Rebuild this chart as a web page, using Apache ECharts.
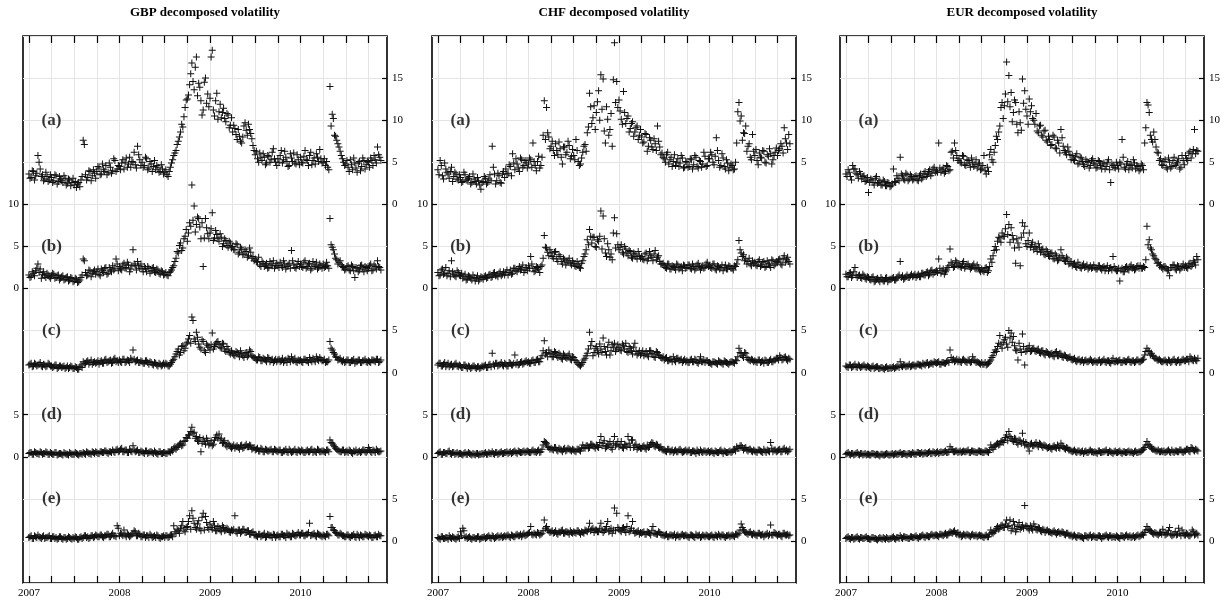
<!DOCTYPE html>
<html><head><meta charset="utf-8">
<script src="https://cdn.jsdelivr.net/npm/echarts@6/dist/echarts.min.js"></script>
<style>html,body{margin:0;padding:0;background:#fff}#c{width:1230px;height:603px}</style>
</head><body><div id="c"></div>
<script>
const panelTitles = ['GBP decomposed volatility', 'CHF decomposed volatility', 'EUR decomposed volatility'];
const subLabels = ['(a)', '(b)', '(c)', '(d)', '(e)'];
const yearTicks = [2007, 2008, 2009, 2010];
const quarterTicks = [2007, 2007.25, 2007.5, 2007.75, 2008, 2008.25, 2008.5, 2008.75, 2009, 2009.25, 2009.5, 2009.75, 2010, 2010.25, 2010.5, 2010.75];
const yLabelValues = [[0, 5, 10, 15], [0, 5, 10], [0, 5], [0, 5], [0, 5]];
// sampling of the series: first array at startYear + i*stepYear, second ("mid") array half a step later
const startYear = 2007, stepYear = 0.025;

const gbpA = [3.6,3.2,3.9,3.4,5.8,4.2,3.5,3.0,3.3,2.9, 3.2,2.8,3.4,2.7,3.0,2.6,3.1,2.5,2.9,2.6, 2.3,2.0,2.6,2.9,7.6,3.5,3.2,3.9,3.4,3.7, 3.9,4.3,3.6,4.1,4.6,3.8,4.4,4.0,5.2,4.2,
 4.5,4.9,4.2,5.5,4.8,4.4,5.0,4.7,6.9,5.3, 5.0,4.6,5.4,4.3,4.8,4.5,4.1,4.4,3.9,4.2, 3.8,3.5,3.9,4.9,5.8,6.4,7.5,8.6,9.2,11.5, 12.5,14.2,16.8,13.6,17.5,14.4,12.3,11.2,15.0,13.1,
 12.6,18.3,10.5,13.2,11.0,10.3,11.4,9.8,10.6,9.4, 8.6,9.0,7.7,8.1,7.3,9.3,8.8,9.5,8.4,7.0, 5.9,5.4,6.1,5.2,5.6,4.9,5.7,5.3,6.6,5.0, 5.4,5.8,4.9,6.3,5.1,4.6,5.5,6.1,4.8,5.3,
 5.6,4.9,6.4,5.2,5.8,4.7,5.5,6.0,5.1,5.4, 5.0,4.6,4.4,14.0,10.7,8.2,7.6,6.8,5.8,5.0, 4.8,4.4,5.3,4.1,4.9,3.8,5.1,4.5,5.2,4.7, 5.0,5.5,4.6,5.3,6.8,5.6];
const gbpAmid = [3.1,4.0,2.9,3.7,5.0,3.3,2.8,3.8,2.7,3.5, 2.6,3.5,2.4,3.3,2.8,3.4,2.3,3.0,2.2,3.1, 2.7,2.4,2.1,3.3,7.1,2.9,4.0,2.8,4.1,3.1, 4.5,3.5,4.8,3.9,3.5,4.9,3.7,5.4,3.9,4.6,
 4.1,5.3,5.0,4.4,5.6,5.1,6.2,4.3,5.9,4.6, 4.4,5.6,4.1,5.1,3.9,5.2,4.6,3.8,4.7,3.6, 4.1,3.3,4.4,5.3,6.1,7.1,8.0,9.5,10.4,12.4, 13.0,15.5,14.6,16.3,12.9,13.9,10.6,14.5,12.0,11.6,
 17.5,11.2,12.3,10.1,11.9,10.9,10.2,10.8,9.1,10.3, 9.4,8.3,8.9,7.5,8.0,9.7,8.2,8.9,7.8,6.4, 6.3,5.0,5.6,6.0,4.7,5.8,5.0,6.2,5.4,4.6, 5.0,6.4,5.3,5.6,4.5,6.0,5.1,4.9,5.9,4.7,
 5.0,5.7,5.3,4.6,6.2,5.2,4.8,5.6,6.5,4.9, 5.4,5.1,4.1,9.3,10.2,8.1,7.2,6.3,5.4,4.6, 5.2,3.9,4.7,5.5,4.3,4.9,4.0,5.5,4.2,5.1, 4.4,5.2,5.8,4.9,5.9,5.2];
const gbpB = [1.6,1.4,1.8,2.1,2.9,2.3,1.7,1.5,1.8,1.4, 1.5,1.7,1.3,1.6,1.2,1.5,1.1,1.4,1.0,1.2, 0.9,1.1,0.8,1.3,3.5,1.9,1.6,2.1,1.8,2.2, 2.0,1.7,2.3,1.9,2.5,1.8,2.2,2.7,2.4,2.9,
 2.6,2.2,3.0,2.5,2.8,2.3,4.6,2.7,3.2,2.4, 2.3,2.6,2.0,2.4,2.1,2.5,1.9,2.2,1.7,2.0, 1.7,1.6,1.9,2.2,2.7,3.6,4.2,5.4,4.8,6.2, 5.6,7.8,12.3,9.8,7.6,8.3,5.9,2.6,8.3,6.5,
 6.6,9.0,6.0,6.4,5.6,6.1,5.3,5.7,4.9,5.4, 5.0,4.6,5.2,4.3,4.7,4.1,4.4,3.9,4.3,3.8, 3.5,3.1,2.8,3.2,2.6,3.0,2.5,2.9,3.3,2.7, 2.7,3.1,2.5,2.9,2.6,3.0,4.5,2.8,2.4,3.2,
 2.9,2.5,3.3,2.6,3.0,2.4,2.8,3.1,2.5,2.7, 2.9,2.6,2.7,8.3,4.9,4.1,3.4,3.1,2.8,2.5, 2.3,2.7,2.1,2.6,1.3,2.4,2.2,2.8,2.0,2.5, 2.4,2.9,2.2,2.6,3.3,2.5];
const gbpBmid = [1.3,2.0,1.5,2.4,1.9,1.2,2.0,1.3,1.6,1.2, 1.8,1.2,1.5,1.0,1.4,1.0,1.3,0.9,1.3,0.8, 1.2,0.7,1.0,1.6,3.3,1.5,2.2,1.4,2.0,1.7, 2.3,1.5,2.1,2.4,1.7,2.5,2.0,2.2,3.5,2.1,
 2.3,2.8,2.4,3.1,2.0,2.7,2.9,2.2,2.7,2.9, 2.0,2.4,2.6,1.8,2.4,2.0,2.3,1.8,2.1,1.6, 1.9,1.5,2.0,2.5,3.2,4.4,5.1,4.5,5.9,7.0, 6.6,7.4,8.1,6.7,8.5,7.3,7.8,6.0,7.2,5.9,
 7.1,5.7,6.9,5.9,6.5,5.0,5.9,5.1,5.6,4.8, 4.6,5.3,4.1,4.9,4.0,4.6,3.7,4.8,3.6,3.3, 3.2,3.7,2.6,3.0,2.8,2.4,3.2,2.7,2.4,3.0, 2.5,2.7,3.3,2.3,2.8,2.4,3.3,2.5,2.9,2.6,
 2.6,3.1,2.4,2.9,2.2,3.2,2.6,2.3,2.9,2.4, 2.5,3.1,2.4,5.2,4.6,3.6,2.9,3.3,2.6,2.2, 2.6,2.2,2.8,2.1,2.5,2.0,2.7,2.3,2.6,2.1, 2.7,2.1,2.8,2.3,2.6,2.2];
const gbpC = [0.9,1.1,0.8,1.0,0.9,1.2,0.7,0.9,0.8,1.0, 0.8,0.7,0.9,0.6,0.8,0.7,0.5,0.8,0.6,0.7, 0.5,0.6,0.4,0.9,1.3,1.1,1.4,1.2,1.0,1.3, 1.2,1.0,1.4,1.1,1.6,1.3,1.5,1.2,1.7,1.4,
 1.5,1.2,1.6,1.3,1.4,1.7,2.7,1.3,1.5,1.2, 1.3,1.1,1.4,1.0,1.2,0.9,1.1,0.8,1.0,0.9, 0.9,1.0,0.8,1.2,1.6,2.2,2.8,2.4,3.2,2.9, 3.6,4.4,6.6,4.0,4.8,3.4,2.8,3.7,2.4,3.2,
 2.7,4.7,3.1,3.6,3.3,2.9,3.4,2.5,2.8,2.2, 2.3,2.0,2.4,1.9,2.2,1.8,2.4,2.1,2.5,1.9, 1.7,1.5,1.8,1.4,1.6,1.3,1.7,1.5,1.2,1.6, 1.5,1.3,1.7,1.4,1.2,1.6,1.9,1.4,1.3,1.5,
 1.5,1.2,1.6,1.4,1.8,1.3,1.5,1.9,1.4,1.6, 1.4,1.2,1.3,3.7,2.7,2.2,1.8,1.6,1.4,1.5, 1.3,1.5,1.2,1.4,1.1,1.3,1.5,1.2,1.4,1.3, 1.4,1.2,1.5,1.3,1.6,1.3];
const gbpCmid = [1.0,0.7,1.1,0.8,1.0,0.8,1.0,0.7,1.1,0.8, 0.6,0.9,0.5,0.8,0.6,0.8,0.6,0.5,0.8,0.5, 0.7,0.4,0.7,0.6,1.1,1.3,1.0,1.5,1.2,1.1, 1.4,1.3,1.1,1.5,1.2,1.4,1.1,1.6,1.3,1.2,
 1.3,1.6,1.2,1.5,1.2,1.5,1.6,1.4,1.2,1.4, 1.1,1.4,1.2,1.3,1.0,1.2,0.9,1.1,0.8,1.1, 1.1,0.8,1.0,1.4,1.9,2.5,2.1,3.1,2.6,3.4, 4.0,3.5,6.2,3.7,4.2,3.0,3.9,2.6,3.4,3.0,
 3.3,2.8,3.4,3.7,3.0,3.5,2.7,3.1,2.4,2.6, 2.1,2.5,2.2,2.6,2.0,2.3,1.9,2.7,2.0,1.8, 1.5,1.9,1.4,1.7,1.5,1.8,1.3,1.6,1.4,1.3, 1.6,1.4,1.2,1.5,1.7,1.3,1.5,1.7,1.2,1.4,
 1.3,1.6,1.4,1.2,1.5,1.7,1.3,1.6,1.8,1.4, 1.6,1.3,1.5,2.9,2.4,1.9,1.5,1.7,1.3,1.2, 1.5,1.2,1.4,1.6,1.3,1.5,1.2,1.4,1.6,1.2, 1.3,1.5,1.4,1.6,1.2,1.5];
const gbpD = [0.4,0.5,0.3,0.5,0.4,0.6,0.3,0.4,0.5,0.3, 0.4,0.3,0.5,0.3,0.4,0.2,0.4,0.3,0.5,0.3, 0.3,0.4,0.2,0.4,0.5,0.3,0.5,0.4,0.6,0.4, 0.5,0.4,0.6,0.5,0.7,0.4,0.6,0.8,0.5,0.9,
 0.7,1.0,0.6,0.8,0.5,0.7,1.3,0.6,0.8,0.5, 0.6,0.4,0.7,0.5,0.6,0.4,0.5,0.3,0.6,0.4, 0.5,0.4,0.6,0.8,1.0,0.9,1.3,1.6,1.4,1.9, 2.2,2.6,3.5,2.9,2.4,1.8,0.6,2.1,1.5,1.9,
 1.6,1.3,2.0,2.6,2.7,2.2,1.7,1.4,1.6,1.2, 1.2,1.0,1.3,0.9,1.4,1.1,1.5,1.2,1.3,1.0, 0.8,1.0,0.7,0.9,0.6,0.8,0.7,0.9,0.6,0.8, 0.6,0.8,0.5,0.7,0.6,0.9,0.5,0.7,0.6,0.8,
 0.6,0.7,0.5,0.8,0.6,0.9,0.7,0.5,0.8,0.6, 0.7,0.5,0.8,2.0,1.6,1.2,0.9,0.7,0.6,0.8, 0.6,0.5,0.7,0.4,0.6,0.5,0.7,0.6,0.8,0.5, 1.1,0.6,0.8,0.5,0.7,0.6];
const gbpDmid = [0.5,0.3,0.6,0.4,0.3,0.5,0.4,0.6,0.3,0.5, 0.3,0.5,0.2,0.4,0.3,0.5,0.3,0.2,0.4,0.3, 0.5,0.3,0.4,0.3,0.4,0.6,0.4,0.3,0.5,0.6, 0.4,0.6,0.5,0.7,0.5,0.6,0.5,0.6,0.8,0.6,
 0.9,0.6,0.8,0.5,0.9,0.6,0.8,0.7,0.5,0.7, 0.5,0.7,0.4,0.6,0.5,0.7,0.4,0.6,0.4,0.5, 0.4,0.6,0.5,0.7,1.2,1.1,1.5,1.3,1.8,2.3, 2.6,3.0,2.8,2.2,1.9,2.3,1.6,1.8,2.2,1.4,
 1.9,1.5,2.3,2.2,2.0,1.6,1.9,1.2,1.4,1.0, 1.4,1.2,1.1,1.3,1.0,1.3,1.2,1.4,0.9,1.1, 0.9,0.7,1.0,0.6,0.9,0.7,0.8,0.6,0.9,0.7, 0.8,0.5,0.7,0.9,0.5,0.7,0.6,0.9,0.5,0.7,
 0.8,0.5,0.7,0.6,0.8,0.5,0.6,0.9,0.6,0.7, 0.6,0.8,0.6,1.7,1.4,1.0,0.8,0.6,0.8,0.5, 0.7,0.8,0.5,0.7,0.8,0.6,0.5,0.8,0.6,0.7, 0.8,0.5,0.7,0.9,0.6,0.7];
const gbpE = [0.4,0.6,0.3,0.5,0.7,0.4,0.5,0.3,0.4,0.6, 0.3,0.5,0.4,0.3,0.5,0.2,0.4,0.3,0.4,0.2, 0.3,0.4,0.2,0.5,0.4,0.6,0.5,0.4,0.6,0.5, 0.6,0.5,0.7,0.4,0.6,0.8,0.5,0.9,0.6,1.8,
 0.6,0.8,1.3,0.5,0.7,0.6,0.9,1.1,0.6,0.8, 0.5,0.7,0.6,0.4,0.6,0.5,0.4,0.6,0.3,0.5, 0.4,0.6,0.5,0.7,1.8,0.9,1.2,1.5,2.3,1.1, 1.7,3.0,3.6,2.1,1.4,2.4,1.2,3.3,2.9,1.6,
 2.0,1.4,1.8,1.2,1.5,1.1,1.6,1.3,1.4,1.0, 1.2,3.0,0.9,1.3,1.1,1.4,1.0,1.2,0.8,1.1, 0.7,0.5,0.8,0.6,0.9,0.5,0.7,0.6,0.8,0.4, 0.7,0.5,0.8,0.6,0.9,0.7,0.5,0.8,0.6,1.0,
 0.7,0.9,0.6,0.8,2.1,0.7,0.9,0.5,0.8,0.6, 0.7,0.5,0.8,2.9,1.6,1.2,0.9,0.7,0.8,0.6, 0.5,0.7,0.4,0.6,0.5,0.8,0.4,0.6,0.5,0.7, 0.5,0.6,0.4,0.7,0.5,0.6];
const gbpEmid = [0.5,0.3,0.6,0.4,0.5,0.3,0.6,0.4,0.5,0.3, 0.5,0.3,0.2,0.5,0.3,0.4,0.2,0.5,0.3,0.4, 0.5,0.2,0.4,0.3,0.6,0.4,0.3,0.6,0.4,0.7, 0.5,0.7,0.5,0.6,0.8,0.5,0.7,0.6,0.5,1.5,
 0.9,0.6,0.7,0.9,0.5,0.8,1.2,0.6,0.9,0.5, 0.7,0.4,0.6,0.8,0.4,0.6,0.7,0.4,0.5,0.6, 0.6,0.4,0.7,0.5,1.1,1.4,0.9,1.8,1.3,1.6, 2.3,1.4,2.7,1.6,2.0,1.5,2.8,1.3,2.2,1.4,
 1.6,2.3,1.2,1.7,1.3,1.8,1.2,1.5,1.1,1.3, 1.4,1.1,1.3,0.9,1.4,1.0,1.2,0.8,1.0,0.7, 0.6,0.8,0.5,0.7,0.4,0.8,0.6,0.4,0.7,0.6, 0.5,0.8,0.6,0.4,0.7,0.5,0.9,0.6,0.8,0.7,
 0.9,0.6,0.8,1.0,0.6,0.8,0.6,0.9,0.7,0.5, 0.6,0.8,0.6,1.6,1.3,1.0,0.7,0.9,0.6,0.5, 0.7,0.5,0.6,0.8,0.4,0.6,0.7,0.5,0.8,0.6, 0.7,0.4,0.6,0.5,0.8,0.6];

const chfA = [4.1,5.2,3.4,4.9,3.8,3.1,4.4,3.3,3.6,2.9, 3.2,2.7,3.5,2.9,3.3,2.6,3.0,2.4,2.8,1.8, 2.7,3.1,2.6,3.5,6.9,3.6,2.8,3.4,2.5,3.9, 4.2,3.7,4.5,6.0,4.1,4.8,3.9,5.3,4.6,5.0,
 4.8,5.3,7.3,4.6,5.1,4.3,5.6,12.3,11.5,8.0, 6.9,6.4,7.2,5.9,6.6,4.8,6.8,6.2,7.0,5.7, 5.8,7.7,5.1,4.8,6.2,7.1,8.5,13.2,9.6,11.7, 10.9,13.5,15.4,14.9,7.3,10.1,8.9,6.9,19.2,14.6,
 12.4,10.1,13.4,9.6,10.5,9.0,9.8,8.6,9.3,8.2, 8.0,7.4,8.3,6.9,7.6,6.5,7.2,9.3,6.8,6.1, 5.4,5.9,4.8,5.6,5.1,4.6,5.4,4.9,5.5,4.4, 5.0,4.5,5.3,4.7,5.6,4.3,5.1,4.8,5.7,4.6,
 5.4,5.9,4.7,7.9,5.2,4.6,5.5,4.2,4.9,4.4, 4.6,4.2,7.3,12.1,10.5,8.5,9.3,6.9,5.6,8.3, 5.8,5.2,6.1,5.5,6.3,4.9,5.7,6.0,5.3,6.2, 5.8,6.6,6.9,9.1,7.3,8.3];
const chfAmid = [3.5,4.6,3.0,4.2,3.6,3.9,2.7,3.8,3.0,3.5, 2.6,3.8,2.9,3.1,2.4,3.6,2.7,3.2,2.3,2.6, 3.3,2.4,3.0,2.8,4.4,2.4,3.7,2.6,3.6,3.2, 3.6,4.7,3.4,4.9,5.4,4.3,5.5,4.4,5.2,4.3,
 5.5,4.4,5.1,4.0,5.7,4.6,8.2,7.7,8.5,6.6, 7.5,5.8,6.4,7.4,5.6,6.8,5.9,7.5,5.4,6.5, 5.3,6.4,4.6,5.5,6.9,6.3,9.2,11.6,10.3,8.9, 12.2,10.0,11.3,8.7,11.6,8.2,10.8,14.8,12.1,11.5,
 11.1,9.5,10.9,10.2,8.6,9.6,8.1,9.1,7.7,8.9, 7.3,8.4,6.3,7.9,6.8,7.8,6.4,7.5,5.9,5.6, 5.0,6.2,5.3,4.5,5.9,5.0,4.5,5.8,4.3,5.1, 4.4,5.4,4.2,5.8,4.5,5.2,4.4,6.2,4.5,5.4,
 6.2,5.0,5.7,6.4,4.4,6.0,4.5,5.3,4.0,4.8, 4.1,5.0,11.0,9.9,7.6,8.4,6.3,7.2,5.3,6.3, 6.5,4.7,5.6,6.4,5.0,5.9,6.6,4.8,5.8,6.7, 6.4,7.2,6.1,7.8,6.5,7.2];
const chfB = [1.9,1.6,2.3,1.8,1.5,2.1,3.3,1.7,1.4,1.9, 1.5,1.2,1.7,1.1,1.4,1.0,1.3,1.2,0.9,1.4, 1.1,1.5,1.3,1.7,1.4,1.9,1.6,1.8,1.5,2.0, 1.9,1.6,2.2,1.8,2.4,2.0,2.6,2.3,1.9,2.5,
 2.7,3.8,2.4,2.1,2.5,1.9,2.8,6.3,4.8,3.9, 4.2,3.6,4.4,3.2,3.8,2.9,3.4,3.1,3.6,2.8, 3.0,2.6,2.9,2.4,3.3,4.1,5.8,7.0,5.4,6.1, 4.9,5.6,9.2,8.6,4.2,5.3,3.7,3.4,8.4,6.5,
 4.6,5.2,4.1,4.7,3.9,4.4,3.6,4.1,3.5,3.9, 3.8,3.4,4.2,3.6,3.9,3.3,4.5,3.7,3.2,2.9, 2.7,2.4,2.9,2.3,2.6,2.2,2.8,2.5,2.1,2.7, 2.5,2.8,2.3,2.6,2.4,3.0,2.2,2.7,2.5,3.1,
 2.7,2.4,2.9,2.2,2.6,2.5,2.1,2.8,2.3,2.6, 2.4,2.7,2.9,5.7,4.2,4.0,3.5,3.2,2.9,3.3, 3.1,2.7,3.4,2.8,3.2,2.6,3.0,2.5,3.3,2.9, 3.1,3.5,2.8,3.9,3.4,3.2];
const chfBmid = [1.5,2.2,1.7,2.5,1.8,1.4,2.0,1.5,2.1,1.6, 1.8,1.4,1.0,1.5,1.2,1.6,0.9,1.5,1.1,1.3, 1.4,1.2,1.6,1.3,1.8,1.5,1.4,2.0,1.7,1.6, 2.2,1.9,1.7,2.4,2.1,2.3,2.2,2.8,2.2,2.1,
 2.4,2.9,2.0,2.6,2.3,2.6,3.6,4.9,4.3,4.6, 3.8,4.3,3.5,4.0,3.2,3.6,2.8,3.3,3.0,3.3, 2.7,3.2,2.5,3.0,3.8,4.6,5.2,6.2,6.1,5.0, 5.8,6.2,4.7,5.9,3.8,4.6,4.1,6.6,4.8,5.2,
 4.9,4.3,5.0,4.2,4.5,3.7,4.2,3.8,4.4,3.6, 3.5,4.1,3.3,4.4,3.7,4.1,3.4,3.9,2.9,3.0, 2.5,2.9,2.3,2.7,2.5,2.9,2.3,2.6,2.8,2.4, 2.8,2.4,2.9,2.2,2.8,2.6,2.5,2.4,2.9,2.6,
 2.5,2.9,2.3,2.7,2.3,2.8,2.5,2.3,2.7,2.4, 2.2,2.6,3.4,4.6,3.8,3.3,2.9,3.6,2.7,3.0, 2.8,3.2,2.6,3.1,2.5,3.3,2.8,3.4,2.7,3.2, 3.4,2.9,3.6,3.1,3.7,2.9];
const chfC = [0.9,1.1,0.8,1.2,0.9,0.7,1.0,0.8,1.1,0.7, 0.8,0.6,0.9,0.5,0.7,0.6,0.8,0.5,0.7,0.6, 0.7,0.9,0.6,1.0,2.3,0.8,1.1,0.9,1.2,0.8, 1.0,0.8,1.1,0.9,2.1,1.2,1.0,1.3,1.1,1.4,
 1.3,1.1,1.5,1.2,1.6,1.3,2.0,3.8,2.4,2.7, 2.2,1.9,2.4,1.8,2.1,1.6,2.0,1.7,2.2,1.5, 1.8,1.4,1.0,0.8,1.2,1.7,2.3,4.8,3.7,2.4, 3.1,2.2,2.8,4.1,2.5,3.0,2.1,3.3,3.5,2.8,
 3.0,2.6,3.2,3.5,2.4,2.9,2.2,3.5,2.1,2.6, 2.3,2.0,2.5,1.9,2.6,2.2,1.8,2.4,2.0,1.7, 1.5,1.8,1.4,1.6,1.9,1.3,1.7,1.5,1.2,1.6, 1.4,1.2,1.6,1.3,1.5,1.1,1.9,1.3,1.2,1.4,
 1.2,1.0,1.3,1.1,1.4,1.2,1.0,1.3,1.1,1.2, 1.3,1.1,1.4,2.9,2.3,1.8,2.3,1.6,1.4,1.5, 1.4,1.2,1.5,1.3,1.1,1.4,1.2,1.6,1.3,1.5, 1.7,2.0,1.5,1.8,1.6,1.7];
const chfCmid = [1.1,0.8,1.0,0.7,1.1,0.9,0.7,1.0,0.8,0.9, 0.6,0.9,0.7,0.8,0.5,0.8,0.6,0.7,0.5,0.8, 0.8,0.6,0.9,0.7,1.0,1.1,0.8,1.0,0.9,1.1, 0.8,1.2,0.9,1.1,1.0,0.9,1.2,1.0,1.3,1.2,
 1.1,1.4,1.2,1.5,1.3,1.7,2.6,2.2,1.9,2.3, 1.9,2.5,2.0,2.3,1.7,2.2,1.8,2.0,1.6,1.9, 1.5,1.2,0.9,1.0,1.5,2.0,2.8,3.2,2.0,2.9, 2.6,3.4,2.4,3.1,2.1,3.6,2.6,3.0,2.5,3.3,
 2.7,3.4,2.8,2.5,3.1,2.6,3.0,2.5,2.3,2.1, 2.6,2.2,2.1,2.6,2.3,1.9,2.5,2.1,1.8,1.9, 1.7,1.4,1.6,1.3,1.5,1.7,1.4,1.6,1.4,1.3, 1.2,1.5,1.3,1.6,1.2,1.4,1.3,1.5,1.4,1.2,
 1.1,1.3,1.2,1.0,1.3,1.1,1.4,1.2,1.0,1.3, 1.2,1.5,1.9,2.4,2.0,2.4,1.8,1.5,1.6,1.3, 1.3,1.5,1.2,1.4,1.5,1.2,1.4,1.3,1.5,1.7, 1.5,1.8,1.6,1.9,1.4,1.6];
const chfD = [0.4,0.6,0.3,0.5,0.4,0.7,0.3,0.5,0.4,0.3, 0.4,0.2,0.5,0.3,0.4,0.2,0.3,0.4,0.2,0.3, 0.3,0.5,0.3,0.4,0.6,0.3,0.5,0.4,0.6,0.4, 0.5,0.4,0.6,0.5,0.7,0.4,0.6,0.5,0.7,0.6,
 0.6,0.5,0.8,0.6,0.7,0.5,0.9,1.8,1.6,1.1, 1.0,0.8,1.1,0.7,0.9,0.6,1.0,0.8,0.9,0.7, 0.8,0.6,0.9,0.7,1.4,1.0,1.3,1.1,1.5,1.2, 1.4,1.1,2.4,1.6,1.0,1.3,1.8,0.9,2.4,1.5,
 1.2,1.8,1.0,1.4,2.4,1.1,2.0,1.3,0.9,1.2, 1.0,1.3,0.9,1.1,1.5,1.6,1.2,1.4,1.0,0.9, 0.8,0.6,0.9,0.7,0.5,0.8,0.6,0.9,0.5,0.7, 0.6,0.8,0.5,0.7,0.4,0.6,0.8,0.5,0.7,0.6,
 0.5,0.7,0.4,0.6,0.5,0.8,0.4,0.6,0.5,0.7, 0.6,0.9,1.2,1.0,1.3,0.8,1.1,0.7,0.9,0.6, 0.7,0.5,0.8,0.6,0.9,0.5,0.7,1.7,0.6,0.8, 0.7,0.9,0.6,1.0,0.8,0.7];
const chfDmid = [0.5,0.3,0.5,0.4,0.6,0.4,0.5,0.3,0.5,0.4, 0.3,0.4,0.3,0.5,0.3,0.4,0.2,0.4,0.3,0.4, 0.4,0.3,0.5,0.4,0.4,0.5,0.3,0.5,0.4,0.5, 0.6,0.5,0.4,0.6,0.5,0.7,0.5,0.6,0.5,0.7,
 0.5,0.7,0.6,0.5,0.8,0.6,1.4,1.7,1.2,0.9, 0.9,1.1,0.8,1.0,0.8,0.9,0.7,1.0,0.8,0.9, 0.7,0.9,0.8,1.0,1.1,1.3,1.0,1.5,1.3,1.0, 1.2,1.7,1.3,1.9,1.2,1.5,1.1,1.6,1.3,1.8,
 1.4,1.1,1.5,1.2,1.6,2.0,1.1,1.5,1.1,1.0, 1.2,1.0,1.4,1.2,1.7,1.3,1.5,1.1,1.2,0.8, 0.7,0.9,0.6,0.8,0.7,0.6,0.8,0.7,0.6,0.8, 0.7,0.5,0.7,0.6,0.8,0.5,0.6,0.7,0.5,0.7,
 0.6,0.5,0.7,0.5,0.7,0.6,0.7,0.5,0.6,0.5, 0.8,0.7,1.0,1.3,1.1,1.0,0.8,0.9,0.7,0.8, 0.6,0.8,0.7,0.5,0.7,0.8,0.6,1.0,0.8,0.6, 0.8,0.6,0.9,0.7,0.6,0.9];
const chfE = [0.4,0.2,0.5,0.3,0.4,0.6,0.3,0.4,0.2,0.5, 1.1,1.5,0.4,0.3,0.5,0.2,0.4,0.3,0.5,0.3, 0.4,0.3,0.5,0.4,0.6,0.3,0.5,0.4,0.6,0.5, 0.5,0.7,0.4,0.6,0.5,0.8,0.6,0.5,0.9,0.7,
 0.9,1.7,0.7,0.8,1.0,0.7,0.9,2.5,1.7,1.2, 1.1,0.9,1.2,0.8,1.0,1.3,0.9,1.1,0.8,1.0, 1.1,0.9,1.2,0.8,1.0,1.3,1.1,2.1,1.4,1.0, 1.3,1.1,2.1,1.0,1.4,2.3,1.2,0.9,3.9,3.3,
 1.4,1.1,1.6,1.0,3.0,1.2,2.3,0.9,1.1,0.8, 0.9,1.1,0.8,1.0,0.7,1.7,0.9,0.8,1.0,0.7, 0.6,0.8,0.5,0.7,0.6,0.4,0.7,0.5,0.8,0.6, 0.6,0.4,0.7,0.5,0.8,0.6,0.4,0.7,0.5,0.6,
 0.5,0.7,0.4,0.6,0.8,0.5,0.7,0.4,0.6,0.5, 0.7,0.5,0.8,0.9,2.0,1.3,1.0,0.8,1.1,0.7, 0.8,0.6,0.9,0.7,0.5,0.8,0.6,1.9,0.7,0.9, 0.6,0.8,0.5,0.9,0.7,0.6];
const chfEmid = [0.3,0.5,0.3,0.4,0.2,0.4,0.5,0.3,0.4,0.3, 0.6,1.2,0.5,0.4,0.3,0.4,0.3,0.5,0.2,0.4, 0.5,0.4,0.6,0.3,0.5,0.4,0.6,0.5,0.4,0.6, 0.6,0.5,0.7,0.5,0.7,0.6,0.8,0.7,0.6,0.8,
 1.0,0.8,0.9,0.7,0.9,0.8,1.2,1.5,1.3,1.0, 1.2,1.0,0.9,1.1,1.2,0.9,1.1,1.0,1.2,0.9, 1.0,1.2,1.0,1.1,0.9,1.2,1.4,1.2,1.5,1.3, 1.1,1.5,1.3,1.2,1.7,1.1,1.5,1.3,1.2,1.6,
 1.2,1.5,1.3,1.7,1.1,1.5,1.2,1.0,1.2,1.0, 1.0,0.8,1.1,0.9,1.2,0.9,0.8,1.1,0.8,0.7, 0.7,0.5,0.7,0.6,0.8,0.6,0.5,0.7,0.6,0.7, 0.5,0.7,0.6,0.4,0.6,0.7,0.5,0.6,0.7,0.5,
 0.6,0.5,0.7,0.5,0.6,0.7,0.5,0.6,0.7,0.6, 0.6,0.8,0.7,1.3,1.6,1.1,0.9,1.0,0.8,0.9, 0.7,0.9,0.7,0.8,0.7,0.9,0.8,0.7,1.0,0.8, 0.8,0.6,0.9,0.7,0.8,0.7];

const eurA = [3.6,4.1,3.3,4.6,4.2,3.5,3.9,3.0,3.4,2.8, 1.4,3.0,2.6,3.1,2.5,2.8,2.3,2.7,2.2,2.5, 2.2,4.2,2.6,3.1,5.6,3.4,2.9,3.5,3.0,3.3, 3.0,3.4,2.8,3.6,3.2,3.9,3.5,4.1,3.7,4.4,
 4.0,7.3,3.8,4.3,3.9,4.5,4.1,6.3,7.3,5.8, 5.4,4.9,5.7,4.6,5.2,4.4,5.0,4.7,4.3,4.9, 4.2,5.8,3.6,3.9,6.5,5.0,7.0,7.7,9.3,12.1, 11.7,16.9,15.3,13.3,10.9,12.1,8.5,9.7,14.9,13.5,
 10.5,12.5,11.7,10.0,10.8,8.5,9.4,8.0,8.8,7.4, 7.7,7.1,8.0,6.6,7.3,8.9,6.9,6.2,6.8,5.9, 5.8,5.2,6.0,4.9,5.5,4.7,5.3,5.0,4.6,5.4, 4.8,4.4,5.1,4.2,4.9,4.5,5.3,2.6,4.6,4.3,
 4.6,5.0,7.7,4.4,4.8,4.1,4.7,5.3,4.2,4.5, 4.2,4.6,7.3,12.1,10.9,7.7,8.6,6.8,6.1,5.4, 4.6,5.3,4.2,5.0,4.5,5.6,4.8,5.4,4.4,5.2, 5.8,5.2,6.3,6.0,8.9,6.4];
const eurAmid = [3.3,3.8,2.9,4.2,3.7,3.1,3.6,3.3,2.7,3.2, 2.6,2.9,2.3,3.3,2.6,2.3,2.9,2.2,2.6,2.1, 2.4,2.7,3.4,2.8,3.6,3.0,3.7,2.8,3.5,2.9, 3.3,2.9,3.4,3.0,3.7,3.3,3.9,3.4,4.2,3.8,
 3.8,4.3,4.1,3.7,4.6,4.0,6.2,5.5,6.4,5.2, 5.0,5.8,4.7,5.3,4.9,5.5,4.5,5.3,4.8,4.1, 4.6,4.0,4.4,5.9,5.3,6.2,8.1,8.6,11.5,10.2, 13.1,12.2,11.6,9.8,12.4,9.5,11.0,8.8,12.0,11.3,
 9.5,11.0,10.2,9.5,8.7,9.3,8.2,8.7,7.6,8.1, 7.0,8.2,6.7,7.6,6.1,7.9,6.4,5.9,6.3,5.3, 5.3,5.7,4.8,5.6,5.1,4.5,5.1,4.3,5.2,4.9, 4.3,5.2,4.6,4.8,4.2,5.0,4.1,4.8,4.4,5.0,
 4.2,4.8,5.6,4.2,5.1,4.6,4.3,4.9,4.6,4.0, 4.8,4.1,9.1,11.8,8.2,7.4,7.7,6.2,5.2,4.7, 5.1,4.4,5.5,4.3,5.2,4.6,5.0,4.2,5.8,4.7, 5.4,6.1,5.5,6.5,6.0,6.3];
const eurB = [1.7,1.4,1.9,1.5,2.5,1.3,1.6,1.2,1.5,1.1, 1.3,1.0,1.4,0.9,1.2,0.8,1.1,0.9,1.3,1.0, 1.1,1.3,1.0,1.4,3.2,1.5,1.2,1.6,1.3,1.7, 1.5,1.3,1.7,1.4,1.8,1.6,2.0,1.7,2.2,1.9,
 2.1,3.5,1.8,2.3,2.0,2.5,4.7,2.9,2.6,3.1, 2.9,2.5,3.2,2.6,2.9,2.3,2.7,2.4,2.8,2.2, 2.3,2.0,2.5,2.1,3.5,3.9,5.0,5.6,6.0,6.6, 6.2,8.8,7.6,7.2,5.8,3.0,5.4,2.7,7.8,7.4,
 5.0,6.6,5.2,4.6,4.8,5.3,4.3,4.7,4.0,4.4, 3.8,4.2,3.5,3.9,3.4,4.6,3.6,3.2,3.5,3.0, 2.7,3.0,2.5,2.8,2.4,2.9,2.6,2.3,2.7,2.5, 2.5,2.3,2.7,2.2,2.6,2.4,2.1,2.5,3.8,2.3,
 2.1,0.9,2.4,2.0,2.6,2.2,2.8,2.5,2.3,2.7, 2.7,2.4,2.5,7.4,5.8,4.6,3.9,3.4,3.1,2.8, 2.3,2.6,2.1,1.5,2.5,2.8,2.2,2.6,2.4,2.9, 2.7,2.4,3.0,2.8,3.1,3.8];
const eurBmid = [1.4,1.8,1.3,2.0,1.6,1.5,1.3,1.7,1.2,1.4, 1.1,1.3,0.8,1.1,1.0,1.3,0.9,1.2,0.8,1.1, 1.2,1.0,1.2,1.6,1.3,1.1,1.4,1.3,1.5,1.4, 1.7,1.5,1.4,1.8,1.6,1.9,1.5,2.1,1.7,2.0,
 1.9,2.4,2.1,1.7,2.2,2.7,3.1,2.5,3.3,2.7, 2.6,3.0,2.4,2.8,2.6,2.5,2.9,2.3,2.5,2.0, 2.1,2.4,1.9,2.6,3.1,4.5,4.6,6.1,5.5,6.2, 7.1,6.4,5.5,6.3,4.8,5.9,4.9,6.1,6.6,5.3,
 5.7,4.9,5.5,5.0,4.4,4.9,4.6,4.1,4.6,3.9, 4.2,3.6,4.1,3.3,3.7,3.9,3.3,3.7,2.9,3.2, 2.9,2.6,3.1,2.5,2.7,2.5,2.8,2.5,2.4,2.8, 2.3,2.7,2.4,2.5,2.1,2.7,2.4,2.2,2.6,2.1,
 2.4,2.2,2.0,2.5,2.3,2.6,2.4,2.2,2.6,2.4, 2.4,2.6,3.4,5.2,4.8,4.1,3.6,3.0,2.7,2.5, 2.6,2.4,2.2,2.5,2.8,2.3,2.7,2.2,2.6,2.5, 2.5,2.9,2.6,3.3,2.8,3.4];
const eurC = [0.8,0.6,0.9,0.7,1.0,0.6,0.8,0.7,0.9,0.6, 0.7,0.5,0.8,0.6,0.7,0.5,0.6,0.4,0.7,0.5, 0.5,0.7,0.6,0.8,1.3,0.7,0.9,0.8,1.0,0.8, 0.9,0.8,1.0,0.9,1.1,0.9,1.2,1.0,1.1,1.3,
 1.1,1.3,1.0,1.2,1.1,1.4,2.7,1.5,1.3,1.6, 1.5,1.2,1.6,1.3,1.5,1.2,1.9,1.4,1.3,1.1, 1.2,1.0,0.9,1.1,1.5,2.0,2.7,3.1,4.4,2.9, 3.9,3.4,5.0,4.7,4.3,2.7,1.5,2.8,4.6,0.9,
 2.7,3.2,2.6,2.9,2.5,2.8,2.3,2.6,2.1,2.4, 2.1,2.3,1.9,2.5,2.0,2.2,1.8,2.0,1.7,1.9, 1.5,1.7,1.3,1.6,1.4,1.2,1.5,1.3,1.6,1.2, 1.4,1.2,1.5,1.3,1.6,1.2,1.4,1.1,1.7,1.3,
 1.3,1.5,1.2,1.4,1.3,1.6,1.2,1.4,1.3,1.5, 1.3,1.5,2.1,2.9,2.5,2.3,1.9,1.7,1.5,1.4, 1.3,1.5,1.2,1.4,1.3,1.6,1.2,1.5,1.3,1.6, 1.4,1.6,1.9,1.5,1.7,1.4];
const eurCmid = [0.7,0.9,0.6,0.8,0.7,0.9,0.6,0.8,0.7,0.8, 0.6,0.7,0.5,0.7,0.5,0.6,0.5,0.6,0.5,0.6, 0.6,0.5,0.7,0.6,0.8,0.9,0.7,0.8,0.7,0.9, 0.8,1.0,0.9,0.8,1.0,1.1,0.9,1.1,1.0,1.2,
 1.2,1.0,1.2,1.1,1.3,1.2,1.8,1.6,1.4,1.3, 1.3,1.5,1.4,1.2,1.4,1.3,1.5,1.2,1.2,1.0, 1.0,1.2,1.0,1.3,1.8,2.4,2.5,3.5,3.3,3.6, 4.2,3.0,4.1,3.6,3.2,2.6,3.5,2.4,3.1,2.5,
 2.9,2.5,2.8,2.6,2.7,2.4,2.6,2.2,2.5,2.2, 2.2,2.0,2.4,2.0,2.3,1.9,2.1,1.8,1.8,1.6, 1.6,1.4,1.5,1.3,1.5,1.4,1.3,1.4,1.4,1.3, 1.3,1.4,1.2,1.4,1.3,1.4,1.2,1.4,1.3,1.4,
 1.4,1.2,1.4,1.3,1.5,1.3,1.4,1.2,1.5,1.3, 1.4,1.6,2.5,2.6,2.1,2.0,1.7,1.5,1.6,1.3, 1.4,1.3,1.5,1.2,1.5,1.3,1.4,1.2,1.5,1.4, 1.6,1.3,1.7,1.4,1.5,1.7];
const eurD = [0.3,0.5,0.2,0.4,0.3,0.5,0.2,0.4,0.3,0.2, 0.3,0.2,0.4,0.2,0.3,0.1,0.3,0.2,0.4,0.2, 0.3,0.2,0.4,0.3,0.5,0.3,0.4,0.2,0.4,0.3, 0.4,0.3,0.5,0.4,0.3,0.5,0.4,0.6,0.4,0.5,
 0.5,0.4,0.6,0.5,0.7,0.5,1.2,0.8,0.6,0.7, 0.6,0.5,0.7,0.6,0.8,0.5,0.7,0.6,0.5,0.7, 0.6,0.5,0.7,0.5,1.4,0.9,1.3,1.6,1.5,1.9, 2.0,2.6,3.0,2.2,1.8,2.1,1.5,1.9,2.8,1.4,
 1.4,0.7,1.6,1.3,1.7,1.2,1.5,1.1,1.3,1.0, 1.2,0.9,1.3,1.0,1.1,1.6,1.2,0.9,1.0,0.8, 0.6,0.8,0.5,0.7,0.6,0.4,0.7,0.5,0.8,0.6, 0.6,0.4,0.7,0.5,0.6,0.8,0.5,0.6,0.4,0.7,
 0.5,0.7,0.4,0.6,0.5,0.7,0.6,0.4,0.7,0.5, 0.6,0.8,1.1,1.8,1.4,1.0,0.9,0.7,0.8,0.6, 0.6,0.5,0.7,0.6,0.8,0.5,0.7,0.6,0.8,0.5, 0.7,0.9,0.6,1.0,0.7,0.8];
const eurDmid = [0.4,0.3,0.4,0.2,0.4,0.3,0.4,0.2,0.4,0.3, 0.2,0.4,0.3,0.3,0.2,0.3,0.2,0.3,0.3,0.2, 0.4,0.3,0.3,0.4,0.3,0.4,0.3,0.4,0.3,0.5, 0.3,0.5,0.4,0.5,0.4,0.4,0.5,0.4,0.6,0.4,
 0.6,0.5,0.5,0.6,0.5,0.6,0.9,0.6,0.7,0.5, 0.7,0.6,0.6,0.7,0.5,0.7,0.6,0.5,0.7,0.6, 0.5,0.7,0.6,0.8,1.1,1.2,1.5,1.4,1.8,1.7, 2.3,1.9,2.4,2.0,2.2,1.7,2.0,1.6,1.8,1.7,
 1.2,1.5,1.3,1.5,1.4,1.6,1.3,1.4,1.2,1.1, 1.0,1.2,1.1,1.4,1.0,1.3,1.0,1.1,0.8,0.7, 0.7,0.6,0.7,0.5,0.7,0.6,0.5,0.7,0.6,0.5, 0.5,0.7,0.5,0.6,0.7,0.5,0.7,0.5,0.6,0.5,
 0.6,0.5,0.6,0.5,0.6,0.5,0.5,0.6,0.5,0.6, 0.7,0.9,1.4,1.5,1.2,0.9,0.8,0.7,0.6,0.7, 0.7,0.6,0.8,0.5,0.6,0.7,0.6,0.8,0.6,0.7, 0.9,0.7,1.1,0.8,0.9,0.7];
const eurE = [0.3,0.5,0.2,0.4,0.3,0.5,0.2,0.4,0.3,0.5, 0.3,0.2,0.4,0.3,0.1,0.4,0.2,0.3,0.4,0.2, 0.3,0.5,0.2,0.4,0.6,0.3,0.5,0.4,0.3,0.5, 0.4,0.6,0.3,0.5,0.7,0.4,0.6,0.5,0.8,0.6,
 0.7,0.5,0.8,0.6,0.9,0.7,1.1,0.9,1.2,0.8, 0.7,0.5,0.8,0.6,0.7,0.5,0.8,0.6,0.5,0.7, 0.6,0.4,0.7,0.5,1.3,0.9,1.2,1.7,1.5,1.9, 1.6,2.5,1.8,1.2,2.3,1.1,1.7,1.4,1.9,4.2,
 1.7,1.3,1.5,2.0,1.4,1.6,1.2,1.4,1.0,1.3, 1.1,0.9,1.2,0.8,1.1,0.9,1.0,0.7,0.9,0.6, 0.5,0.7,0.4,0.6,0.5,0.3,0.6,0.4,0.7,0.5, 0.5,0.4,0.6,0.3,0.5,0.7,0.4,0.6,0.5,0.4,
 0.5,0.3,0.6,0.4,0.7,0.5,0.4,0.6,0.5,0.7, 0.6,0.8,1.0,1.7,1.3,1.1,0.8,0.9,0.7,1.0, 1.4,0.7,0.9,1.6,0.6,0.8,0.7,1.5,0.6,0.9, 0.7,0.8,0.6,1.3,0.7,0.9];
const eurEmid = [0.4,0.3,0.4,0.2,0.4,0.3,0.4,0.3,0.4,0.3, 0.2,0.4,0.3,0.2,0.3,0.3,0.4,0.2,0.3,0.3, 0.4,0.3,0.4,0.3,0.4,0.5,0.4,0.3,0.5,0.4, 0.5,0.4,0.5,0.6,0.5,0.6,0.5,0.7,0.6,0.7,
 0.6,0.8,0.7,0.8,0.7,0.9,1.0,1.1,0.9,1.0, 0.8,0.6,0.7,0.8,0.6,0.7,0.6,0.7,0.6,0.6, 0.5,0.6,0.5,0.8,1.0,1.1,1.5,1.4,1.8,1.6, 2.0,1.7,2.5,1.5,1.9,1.4,2.2,1.6,1.5,1.8,
 1.5,1.8,1.3,1.7,1.3,1.5,1.1,1.3,1.2,1.1, 1.0,1.1,1.0,1.0,0.9,1.1,0.8,0.9,0.7,0.7, 0.6,0.5,0.6,0.5,0.4,0.6,0.5,0.6,0.4,0.6, 0.4,0.6,0.5,0.5,0.6,0.5,0.6,0.4,0.5,0.6,
 0.4,0.6,0.5,0.6,0.5,0.6,0.5,0.4,0.6,0.5, 0.7,0.7,1.3,1.4,1.2,0.9,1.0,0.8,0.9,0.8, 1.0,0.8,1.2,0.8,0.7,1.1,0.8,0.9,1.3,0.7, 0.9,0.6,0.8,1.1,0.8,0.7];

const panelSeries = [
  [[gbpA, gbpAmid], [gbpB, gbpBmid], [gbpC, gbpCmid], [gbpD, gbpDmid], [gbpE, gbpEmid]],
  [[chfA, chfAmid], [chfB, chfBmid], [chfC, chfCmid], [chfD, chfDmid], [chfE, chfEmid]],
  [[eurA, eurAmid], [eurB, eurBmid], [eurC, eurCmid], [eurD, eurDmid], [eurE, eurEmid]]
];

// ---- layout / style ----
const FONT = "'Liberation Serif', 'DejaVu Serif', serif";
const panelLeft = [23, 432, 840];
const panelWidth = 364, panelTop = 36, panelHeight = 547;
const xMin = 2006.935, xMax = 2010.955;
const subMin = [-45, -35, -25, -15, -5];   // each band's own axis is shifted so the bands stack
const subPos = ['right', 'left', 'right', 'left', 'right'];
const labelAt = [10, 5, 5, 5, 5];
const PLUS = 'path://M3,0h1v3h3v1h-3v3h-1v-3h-3v-1h3z';

const grid = [], xAxis = [], yAxis = [], series = [], title = [];
panelTitles.forEach((txt, p) => {
  grid.push({ left: panelLeft[p], top: panelTop, width: panelWidth, height: panelHeight,
    show: true, borderColor: '#000', borderWidth: 1.6, backgroundColor: 'transparent', containLabel: false });
  title.push({ text: txt, left: panelLeft[p] + panelWidth / 2, top: 6, textAlign: 'center', padding: 0,
    textStyle: { fontFamily: FONT, fontSize: 13, fontWeight: 'bold', color: '#000' } });
  xAxis.push({ type: 'value', gridIndex: p, min: xMin, max: xMax, position: 'bottom',
    axisLine: { show: false, onZero: false },
    axisTick: { show: true, inside: true, length: 7, customValues: quarterTicks, lineStyle: { color: '#000', width: 1.2 } },
    axisLabel: { show: true, customValues: yearTicks, margin: 5, formatter: v => String(Math.round(v)),
      fontFamily: FONT, fontSize: 11, color: '#000' },
    splitLine: { show: true, lineStyle: { color: '#e4e4e4', width: 1 } } });
  xAxis.push({ type: 'value', gridIndex: p, min: xMin, max: xMax, position: 'top',
    axisLine: { show: false, onZero: false },
    axisTick: { show: true, inside: true, length: 7, customValues: quarterTicks, lineStyle: { color: '#000', width: 1.2 } },
    axisLabel: { show: false }, splitLine: { show: false } });
  const yBase = yAxis.length;
  for (let k = 0; k < 5; k++) {
    yAxis.push({ type: 'value', gridIndex: p, min: subMin[k], max: subMin[k] + 65, position: subPos[k],
      axisLine: { show: false, onZero: false },
      axisTick: { show: true, inside: true, length: 5, customValues: yLabelValues[k], lineStyle: { color: '#000', width: 1.2 } },
      axisLabel: { show: true, customValues: yLabelValues[k], margin: subPos[k] === 'right' ? 5 : 4,
        fontFamily: FONT, fontSize: 11, color: '#000' },
      splitLine: { show: false } });
  }
  yAxis.push({ type: 'value', gridIndex: p, min: -5, max: 60, interval: 5, position: 'left',
    axisLine: { show: false, onZero: false }, axisTick: { show: false }, axisLabel: { show: false },
    splitLine: { show: true, lineStyle: { color: '#e4e4e4', width: 1 } } });

  panelSeries[p].forEach(([vals, mids], k) => {
    const data = vals.map((v, i) => [startYear + stepYear * i, v])
      .concat(mids.map((v, i) => [startYear + stepYear * (i + 0.5), v]));
    series.push({ type: 'scatter', xAxisIndex: 2 * p, yAxisIndex: yBase + k,
      symbol: PLUS, symbolSize: 7, silent: true, animation: false,
      itemStyle: { color: '#111', opacity: 1 }, data });
    series.push({ type: 'scatter', xAxisIndex: 2 * p, yAxisIndex: yBase + k,
      symbolSize: 1, silent: true, animation: false, z: 5,
      itemStyle: { color: 'rgba(0,0,0,0)' },
      label: { show: true, position: 'inside', formatter: subLabels[k],
        fontFamily: FONT, fontSize: 17, fontWeight: 'bold', color: '#000' },
      data: [[2007.25, labelAt[k]]] });
  });
});

const chart = echarts.init(document.getElementById('c'), null, { renderer: 'canvas' });
chart.setOption({ animation: false, backgroundColor: '#fff', title, grid, xAxis, yAxis, series });
</script></body></html>
